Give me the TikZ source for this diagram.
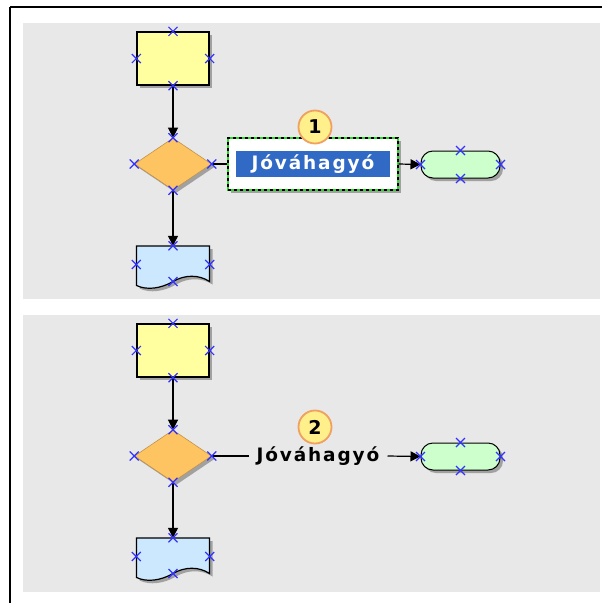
\documentclass[tikz,border=0pt]{standalone}
\usepackage{fontspec}
\setmainfont{DejaVu Sans}
\newfontfamily\lblfont[LetterSpace=10]{DejaVu Sans}
\usetikzlibrary{shapes.geometric, shadows, arrows.meta, positioning}

\definecolor{panelgray}{HTML}{E8E8E8}
\definecolor{procyellow}{HTML}{FFFFA0}
\definecolor{decorange}{HTML}{FFC462}
\definecolor{docblue}{HTML}{CCE8FF}
\definecolor{termgreen}{HTML}{CCFFCC}
\definecolor{selblue}{HTML}{316AC5}
\definecolor{cpblue}{HTML}{3333FF}
\definecolor{dashgreen}{HTML}{22DD22}
\definecolor{calloutfill}{HTML}{FFF08C}
\definecolor{calloutedge}{HTML}{F0A060}

\tikzset{
  shade/.style={drop shadow={shadow xshift=3pt, shadow yshift=-3pt, opacity=0.3, fill=black}},
  procbox/.style={draw=black, line width=1.3pt, fill=procyellow, minimum width=72pt, minimum height=53pt, inner sep=0pt, shade},
  decision/.style={diamond, draw=decorange!75!black, line width=0.6pt, fill=decorange, minimum width=77pt, minimum height=52pt, inner sep=0pt, shade},
  docbox/.style={minimum width=73pt, minimum height=37pt, inner sep=0pt},
  termbox/.style={draw=black, line width=1pt, fill=termgreen, rounded corners=12pt, minimum width=79pt, minimum height=27pt, inner sep=0pt, shade},
  selbox/.style={draw=dashgreen, line width=1.3pt, fill=white, minimum width=170pt, minimum height=52pt, inner sep=0pt, shade,
    postaction={draw=black, line width=1.3pt, dash pattern=on 3pt off 3pt}},
  seltext/.style={fill=selblue, text=white, minimum width=154pt, minimum height=26pt, inner sep=0pt,
    font=\lblfont\bfseries\fontsize{18.5}{20}\selectfont},
  plaintext/.style={text=black, inner xsep=8pt, inner ysep=2pt, font=\lblfont\bfseries\fontsize{18.5}{20}\selectfont},
  flow/.style={draw=black, line width=1.2pt},
  flowarrow/.style={flow, -{Triangle[length=10pt, width=10pt]}},
  callout/.style={circle, draw=calloutedge, line width=1.8pt, fill=calloutfill, minimum size=33pt, inner sep=0pt,
    font=\bfseries\fontsize{19}{19}\selectfont},
  cpt/.pic={\draw[cpblue, line width=1.2pt] (-4.5,-4.5) -- (4.5,4.5) (-4.5,4.5) -- (4.5,-4.5);}
}

% document symbol with wavy bottom, drawn around a named node
\newcommand{\drawdoc}[1]{%
  \begin{scope}[shift={(#1.center)}]
    \fill[black, opacity=0.3, shift={(3,3)}] (-36.5,-18.5) -- (36.5,-18.5) -- (36.5,17) .. controls (26,10) and (12,10) .. (0,17) .. controls (-12,24) and (-26,26) .. (-36.5,21) -- cycle;
    \filldraw[fill=docblue, draw=black, line width=1.2pt] (-36.5,-18.5) -- (36.5,-18.5) -- (36.5,17) .. controls (26,10) and (12,10) .. (0,17) .. controls (-12,24) and (-26,26) .. (-36.5,21) -- cycle;
    \pic at (0,17) {cpt};
  \end{scope}}

\begin{document}
\begin{tikzpicture}[x=1pt, y=-1pt]
    \useasboundingbox (0,0) rectangle (602,603);
    \fill[white] (0,0) rectangle (602,603);

    % frame
    \draw[black, line width=2pt] (10,7) -- (602,7);
    \draw[black, line width=2pt] (10,7) -- (10,603);

    % panels
    \fill[panelgray] (23,23) rectangle (600,299);
    \fill[panelgray] (23,315) rectangle (600,592);

    % ---- panel 1: label selected
    \node[procbox] (proc1) at (173,58.5) {};
    \node[decision] (dec1) at (173,164) {};
    \node[docbox] (doc1) at (173,264.5) {};
    \drawdoc{doc1}
    \node[selbox] (appr1) at (313,164) {};
    \node[seltext] (label1) at (appr1.center) {Jóváhagyó};
    \node[termbox] (term1) at (460.5,164.5) {};

    \draw[flowarrow] (proc1.south) -- (dec1.north);
    \draw[flowarrow] (dec1.south) -- (doc1.north);
    \draw[flow] (dec1.east) -- (appr1.west);
    \draw[flowarrow] (appr1.east) -- (term1.west);

    \node[callout] (num1) at (315,127) {1};

    \foreach \a in {north,south,east,west} {
        \pic at (proc1.\a) {cpt};
        \pic at (dec1.\a) {cpt};
        \pic at (term1.\a) {cpt};
    }
    \foreach \a in {north,east,west}
        \pic at (doc1.\a) {cpt};

    % ---- panel 2: label as plain text
    \node[procbox] (proc2) at (173,350.5) {};
    \node[decision] (dec2) at (173,456) {};
    \node[docbox] (doc2) at (173,556.5) {};
    \drawdoc{doc2}
    \node[plaintext] (appr2) at (318,456) {Jóváhagyó};
    \node[termbox] (term2) at (460.5,456.5) {};

    \draw[flowarrow] (proc2.south) -- (dec2.north);
    \draw[flowarrow] (dec2.south) -- (doc2.north);
    \draw[flow] (dec2.east) -- (appr2.west);
    \draw[flowarrow] (appr2.east) -- (term2.west);

    \node[callout] (num2) at (315,427) {2};

    \foreach \a in {north,south,east,west} {
        \pic at (proc2.\a) {cpt};
        \pic at (dec2.\a) {cpt};
        \pic at (term2.\a) {cpt};
    }
    \foreach \a in {north,east,west}
        \pic at (doc2.\a) {cpt};
\end{tikzpicture}
\end{document}
